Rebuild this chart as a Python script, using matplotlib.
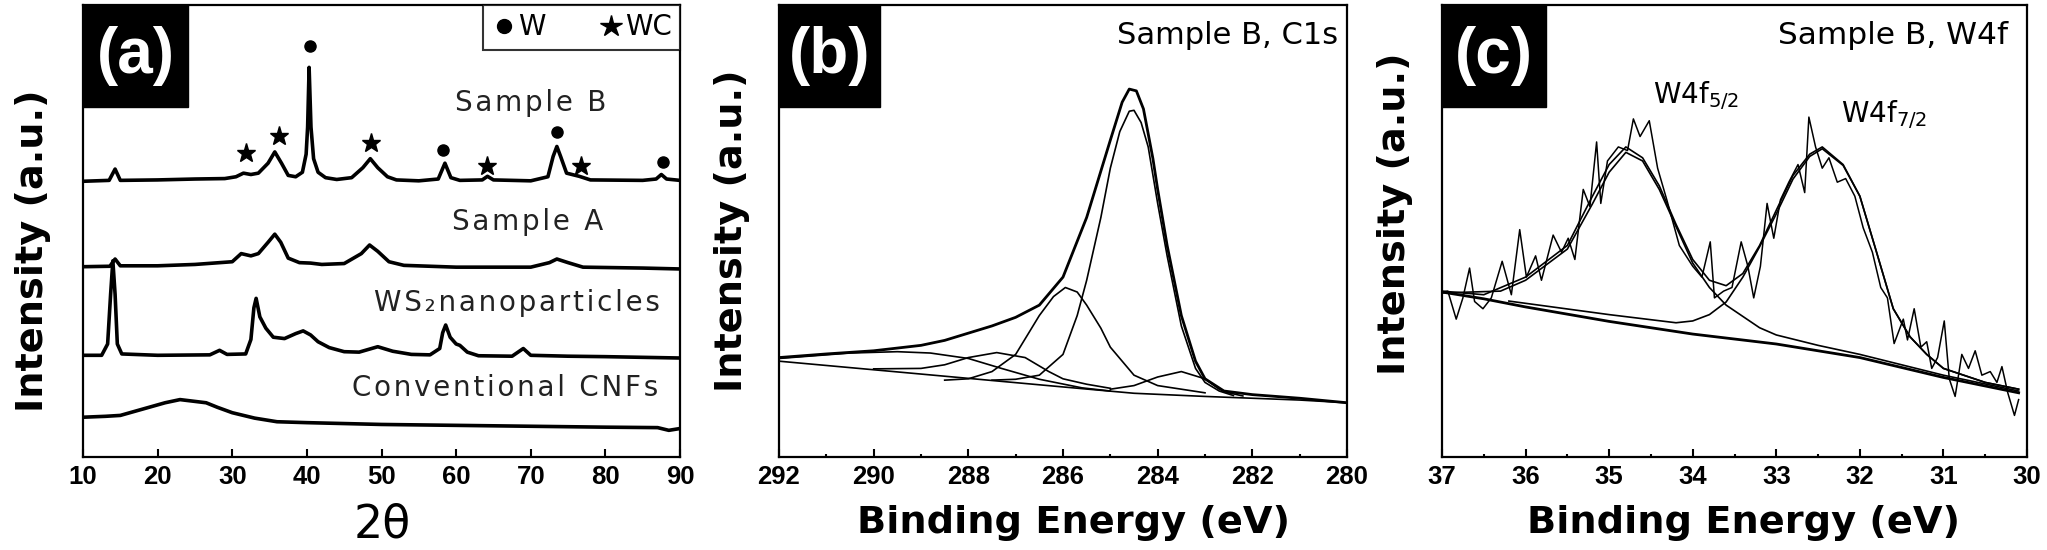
import matplotlib
matplotlib.use("Agg")
import matplotlib.pyplot as plt
from matplotlib.patches import Rectangle
from matplotlib.lines import Line2D
from matplotlib.ticker import MultipleLocator

plt.rcParams['font.family'] = ['Liberation Sans', 'DejaVu Sans']
WIDE = ['DejaVu Sans']

# ---- (a) XRD ----
b_x = [10, 13.5, 14.3, 15.0, 20, 25, 29, 30.5, 31.5, 32.5, 33.5, 34.8, 35.7, 36.6, 37.5, 38.5, 39.4, 39.9, 40.1, 40.3,
       40.55, 40.9, 41.5, 42.5, 44, 46, 47.5, 48.5, 49.5, 50.8, 52, 55, 57.6, 58.5, 59.3, 60.5, 63.5, 64.2, 65, 70,
       72.3, 73.0, 73.5, 74.0, 74.8, 76.5, 78, 85, 86.8, 87.5, 88.2, 90]
b_y = [61.0, 61.2, 63.7, 61.2, 61.3, 61.5, 61.6, 62.0, 62.8, 62.5, 62.8, 65.0, 67.5, 65.0, 62.3, 62.0, 63.0, 67.0, 73.0, 86.2,
       73.0, 66.0, 63.0, 61.8, 61.4, 61.8, 64.0, 66.0, 64.0, 62.0, 61.3, 61.1, 61.5, 65.0, 61.8, 61.2, 61.3, 62.1, 61.3, 61.1,
       62.0, 66.5, 68.7, 66.5, 62.8, 62.1, 61.3, 61.2, 61.5, 62.5, 61.5, 61.2]
a_x = [10, 13.6, 14.3, 15.0, 20, 25, 30, 31.2, 32.5, 33.5, 34.8, 35.7, 36.5, 37.5, 39, 40.5, 42, 45, 47.3, 48.4,
       49.5, 51, 53, 60, 70, 72.5, 73.5, 75, 77, 85, 90]
a_y = [42.1, 42.2, 43.8, 42.3, 42.3, 42.6, 43.2, 45.0, 44.5, 45.0, 47.5, 49.3, 47.5, 44.0, 43.0, 42.9, 42.6, 42.8, 45.0, 46.9,
       45.5, 43.2, 42.4, 42.0, 42.0, 43.0, 43.8, 43.0, 42.0, 41.8, 41.6]
ws_x = [10, 12.5, 13.3, 13.7, 14.0, 14.3, 14.6, 15.2, 20, 27, 28.3, 29.3, 31.8, 32.5, 32.9, 33.2, 33.7, 34.5, 35.5, 37,
        38.5, 39.5, 40.5, 41.5, 43, 45, 47, 49.5, 51.5, 54, 56.5, 57.8, 58.2, 58.6, 59.2, 60.0, 60.5, 61.5, 63, 67.5,
        69.0, 70.0, 75, 80, 90]
ws_y = [22.5, 22.5, 25, 36, 43.4, 36, 25, 22.8, 22.5, 22.6, 23.6, 22.7, 22.8, 26, 33, 35.1, 31, 28.5, 26.5, 26.2,
        27.3, 27.9, 27, 25.5, 24.2, 23.3, 23.2, 24.4, 23.4, 22.7, 22.6, 24, 27.5, 29.2, 26.5, 25.0, 24.7, 23.2, 22.4, 22.3,
        24.0, 22.5, 22.3, 22.2, 21.9]
cnf_x = [10, 13, 15, 18, 21, 23, 25, 26.5, 28, 30, 33, 36, 40, 50, 60, 70, 80, 87, 88.5, 90]
cnf_y = [8.8, 9.0, 9.2, 10.6, 12.0, 12.7, 12.3, 12.0, 11.0, 9.8, 8.6, 7.8, 7.6, 7.2, 7.0, 6.8, 6.6, 6.5, 5.9, 6.3]

w_pk_x = [40.4, 58.3, 73.5, 87.7]
w_pk_y = [90.9, 67.9, 71.8, 65.2]
wc_pk_x = [31.8, 36.2, 48.6, 64.2, 76.7]
wc_pk_y = [67.2, 71.0, 69.5, 64.4, 64.4]

trace_names = ['Sample B', 'Sample A', 'WS₂nanoparticles', 'Conventional CNFs']
name_x = [70.0, 69.6, 68.2, 66.6]
name_y = [78.4, 52.0, 34.1, 15.2]

# ---- (b) C1s ----
env_x = [292, 291, 290, 289, 288.5, 288, 287.5, 287, 286.5, 286, 285.5, 285, 284.75, 284.6, 284.45, 284.3, 284.1, 284.0,
         283.8, 283.5, 283.2, 283.0, 282.6, 282, 281, 280]
env_y = [22.0, 22.8, 23.5, 24.7, 25.8, 27.4, 29.0, 30.9, 33.6, 39.8, 53.0, 70.1, 78.5, 81.4, 81.0, 77.0, 66.0, 59.2,
         46.8, 31.3, 21.2, 17.3, 14.6, 13.8, 13.0, 12.0]
c1_x = [287.5, 287, 286.5, 286, 285.7, 285.5, 285.2, 285, 284.8, 284.6, 284.5, 284.35, 284.2, 284, 283.8, 283.5, 283.2,
        283, 282.7, 282.4]
c1_y = [17.0, 17.2, 18.1, 22.7, 31.3, 39.1, 53.0, 63.9, 72.0, 76.5, 76.7, 74.0, 68.6, 56.1, 44.5, 29.0, 19.6,
        16.5, 14.6, 13.6]
c2_x = [288.5, 288, 287.5, 287, 286.5, 286.2, 285.95, 285.7, 285.5, 285.2, 285, 284.5, 284, 283.5, 283]
c2_y = [17.0, 17.3, 18.9, 22.7, 31.3, 35.5, 37.5, 36.5, 33.6, 28.5, 24.3, 18.1, 15.8, 15.0, 14.2]
c3_x = [290, 289, 288.5, 288, 287.4, 286.8, 286.3, 286, 285.5, 285]
c3_y = [19.5, 19.6, 20.4, 22.0, 23.1, 22.0, 18.9, 17.3, 16.1, 15.2]
c4_x = [292, 290.5, 289.5, 288.8, 288, 287.3, 286.5, 285.6, 285]
c4_y = [21.8, 23.0, 23.3, 23.0, 21.8, 19.6, 17.2, 15.3, 14.6]
c5_x = [285, 284.5, 284, 283.5, 283, 282.7, 282.5, 282.2]
c5_y = [15.0, 15.8, 17.7, 18.9, 17.3, 15.0, 14.2, 13.5]
bg_b_x = [292, 290, 288, 286, 284.5, 283, 282, 281, 280]
bg_b_y = [21.2, 19.3, 17.4, 15.5, 14.1, 13.4, 13.0, 12.6, 12.0]

# ---- (c) W4f ----
raw_x = [37.0, 36.93, 36.83, 36.75, 36.67, 36.61, 36.51, 36.41, 36.28, 36.17, 36.07, 35.99, 35.88, 35.81, 35.67, 35.57,
         35.49, 35.41, 35.31, 35.23, 35.15, 35.10, 35.02, 34.89, 34.78, 34.71, 34.63, 34.52, 34.42, 34.31, 34.16, 34.0,
         33.89, 33.79, 33.74, 33.63, 33.53, 33.42, 33.34, 33.27, 33.19, 33.11, 33.03, 32.95, 32.85, 32.74, 32.66, 32.61,
         32.53, 32.45, 32.37, 32.27, 32.17, 32.06, 31.96, 31.85, 31.75, 31.67, 31.59, 31.48, 31.43, 31.35, 31.27, 31.20,
         31.14, 31.07, 30.99, 30.93, 30.86, 30.78, 30.70, 30.62, 30.54, 30.44, 30.36, 30.30, 30.23, 30.15, 30.10]
raw_y = [36.5, 36.7, 30.5, 35.2, 41.8, 34.4, 32.8, 35.2, 43.3, 35.9, 50.3, 39.8, 44.5, 39.1, 49.1, 45.3,
         48.4, 43.7, 59.2, 55.4, 69.7, 56.1, 65.5, 68.6, 67.8, 74.8, 70.9, 74.4, 63.9, 56.9, 46.8, 42.2,
         39.8, 47.6, 35.2, 36.7, 37.5, 47.6, 42.2, 35.2, 42.2, 56.1, 48.4, 56.9, 60.8, 64.7, 58.5, 75.2,
         68.6, 63.9, 66.2, 60.8, 61.6, 57.7, 50.7, 45.3, 37.5, 35.2, 25.1, 30.5, 25.9, 32.8, 24.3, 25.5,
         19.6, 22.0, 30.1, 17.3, 13.4, 22.7, 19.6, 23.5, 18.1, 18.9, 16.5, 20.0, 14.2, 9.2, 12.7]
fit_x = [37.0, 36.5, 36.0, 35.5, 35.2, 35.0, 34.8, 34.6, 34.4, 34.2, 34.0, 33.8, 33.6, 33.4, 33.2, 33.0, 32.8, 32.6,
         32.45, 32.2, 32.0, 31.8, 31.6, 31.4, 31.2, 31.0, 30.5, 30.1]
fit_y = [36.7, 35.9, 39.8, 46.8, 57.7, 64.7, 68.6, 66.2, 60.0, 51.5, 43.7, 39.1, 37.9, 40.6, 46.8, 54.6, 62.3, 67.0,
         68.6, 64.7, 57.7, 45.3, 32.8, 26.6, 22.7, 19.6, 16.5, 15.0]
p1_x = [37.0, 36.3, 36.0, 35.5, 35.2, 35.0, 34.8, 34.6, 34.4, 34.2, 34.0, 33.8, 33.6, 33.2, 33.0, 32.5, 32.0, 31.5, 31.0, 30.1]
p1_y = [36.3, 36.7, 39.1, 46.0, 56.0, 63.0, 67.4, 65.5, 59.2, 51.0, 42.9, 37.5, 33.6, 28.6, 27.0, 24.7, 22.7, 20.4, 18.1, 14.6]
p2_x = [36.2, 35.0, 34.2, 34.0, 33.8, 33.6, 33.4, 33.2, 33.0, 32.8, 32.6, 32.45, 32.2, 32.0, 31.8, 31.6, 31.4, 31.2, 31.0,
        30.5, 30.1]
p2_y = [34.5, 31.5, 29.7, 30.1, 31.5, 34.3, 39.8, 46.5, 53.8, 61.5, 66.5, 68.2, 64.5, 57.7, 45.3, 32.8, 26.6, 22.7, 19.6,
        16.5, 15.0]
bg_c_x = [37.0, 36.5, 36.0, 35.0, 34.0, 33.0, 32.0, 31.0, 30.1]
bg_c_y = [36.5, 35.0, 33.2, 30.0, 27.2, 25.0, 22.0, 17.6, 14.2]


def spaced(s):
    # the reference letters are set loosely
    return '\u200a'.join(s)


W, H = 2047, 550
fig = plt.figure(figsize=(W / 100, H / 100), dpi=100)

def px_axes(l, r, t, b):
    return fig.add_axes([l / W, (H - b) / H, (r - l) / W, (b - t) / H])

ax_a = px_axes(83, 680, 5, 457)
ax_b = px_axes(779, 1347, 5, 457)
ax_c = px_axes(1442, 2027, 5, 457)

# box width, ylabel baseline x, ylabel start y (axes fraction)
for ax, lab, bw, ylx, yly in [(ax_a, '(a)', 0.176, -0.067, 0.10),
                              (ax_b, '(b)', 0.178, -0.065, 0.144),
                              (ax_c, '(c)', 0.178, -0.063, 0.181)]:
    ax.set_ylim(0, 100)
    ax.set_yticks([])
    for s in ax.spines.values():
        s.set_linewidth(1.6)
    ax.tick_params(axis='x', which='both', direction='in', top=False, width=1.5, labelsize=18.5, pad=6)
    ax.tick_params(axis='x', which='major', length=5.5)
    ax.tick_params(axis='x', which='minor', length=2.5)
    ax.add_patch(Rectangle((0, 1 - 0.2257), bw, 0.2257, transform=ax.transAxes, color='black', zorder=5, clip_on=False))
    ax.text(bw / 2, 1 - 0.2257 / 2, lab, transform=ax.transAxes, color='white', fontsize=46, fontweight='bold',
            ha='center', va='center', zorder=6)
    ax.set_ylabel('Intensity (a.u.)', fontsize=27.5, fontweight='bold', family=WIDE, ha='left', va='baseline')
    ax.yaxis.set_label_coords(ylx, yly)

# panel a
ax_a.set_xlim(10, 90)
ax_a.xaxis.set_major_locator(MultipleLocator(10))
for xs, ys in [(b_x, b_y), (a_x, a_y), (ws_x, ws_y), (cnf_x, cnf_y)]:
    ax_a.plot(xs, ys, color='black', lw=2.6)
ax_a.plot(w_pk_x, w_pk_y, 'o', color='black', ms=8, ls='none')
ax_a.plot(wc_pk_x, wc_pk_y, '*', color='black', ms=14, ls='none')
for name, nx, ny in zip(trace_names, name_x, name_y):
    ax_a.text(nx, ny, spaced(name), fontsize=20, family=WIDE, color='#222222', ha='center', va='center')
handles = [Line2D([], [], marker='o', color='black', ls='none', ms=10),
           Line2D([], [], marker='*', color='black', ls='none', ms=16)]
leg = ax_a.legend(handles, ['W', 'WC'], ncol=2, loc='upper right', frameon=True, fancybox=False,
                  prop={'family': WIDE, 'size': 20},
                  edgecolor='black', borderaxespad=0, handletextpad=0.05, columnspacing=1.9, handlelength=0.9,
                  borderpad=0.3)
leg.get_frame().set_linewidth(1.5)
ax_a.set_xlabel('2θ', fontsize=33, family=WIDE, va='baseline')
ax_a.xaxis.set_label_coords(0.501, -0.177)

# panel b
ax_b.set_xlim(292, 280)
ax_b.xaxis.set_major_locator(MultipleLocator(2))
ax_b.xaxis.set_minor_locator(MultipleLocator(1))
ax_b.plot(env_x, env_y, color='black', lw=2.0)
for xs, ys in [(c1_x, c1_y), (c2_x, c2_y), (c3_x, c3_y), (c4_x, c4_y), (c5_x, c5_y), (bg_b_x, bg_b_y)]:
    ax_b.plot(xs, ys, color='black', lw=1.2)
ax_b.text(0.985, 0.965, 'Sample B, C1s', transform=ax_b.transAxes, fontsize=22, family=WIDE, ha='right', va='top')
ax_b.set_xlabel('Binding Energy (eV)', fontsize=27.5, fontweight='bold', family=WIDE, va='baseline')
ax_b.xaxis.set_label_coords(0.519, -0.168)

# panel c
ax_c.set_xlim(37, 30)
ax_c.xaxis.set_major_locator(MultipleLocator(1))
ax_c.xaxis.set_minor_locator(MultipleLocator(0.5))
ax_c.plot(raw_x, raw_y, color='black', lw=1.1)
for xs, ys in [(fit_x, fit_y), (p1_x, p1_y), (p2_x, p2_y)]:
    ax_c.plot(xs, ys, color='black', lw=1.2)
ax_c.plot(bg_c_x, bg_c_y, color='black', lw=2.0)
ax_c.text(0.967, 0.965, 'Sample B, W4f', transform=ax_c.transAxes, fontsize=22.5, family=WIDE, ha='right', va='top')
ax_c.text(34.47, 78.3, 'W4f$_{5/2}$', fontsize=20, family=WIDE, ha='left', va='baseline')
ax_c.text(32.22, 74.0, 'W4f$_{7/2}$', fontsize=20, family=WIDE, ha='left', va='baseline')
ax_c.set_xlabel('Binding Energy (eV)', fontsize=27.5, fontweight='bold', family=WIDE, va='baseline')
ax_c.xaxis.set_label_coords(0.515, -0.168)

for ax in (ax_a, ax_b, ax_c):
    for t in ax.get_xticklabels():
        t.set_fontweight('bold')

fig.savefig('out.png', dpi=100)
